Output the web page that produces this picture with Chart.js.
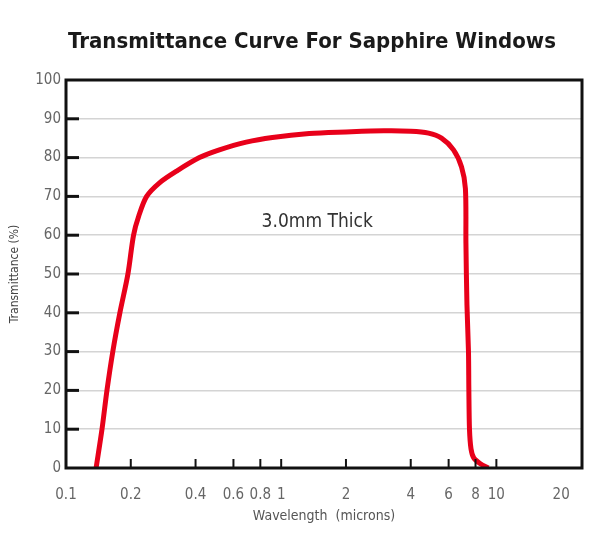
<!DOCTYPE html>
<html>
<head>
<meta charset="utf-8">
<script src="https://cdn.jsdelivr.net/npm/chart.js@4/dist/chart.umd.min.js"></script>
<style>
    html, body { margin: 0; padding: 0; background: #fff; }
    #wrap { width: 600px; height: 541px; position: relative; }
</style>
</head>
<body>
<div id="wrap"><canvas id="chart"></canvas></div>
<script>
// curve: wavelength in microns, transmittance in %
const wavelength = [0.138, 0.147, 0.155, 0.165, 0.178, 0.194, 0.206, 0.218, 0.237, 0.272, 0.326, 0.417, 0.516, 0.688, 0.91, 1.35, 2.0, 3.0, 4.0, 4.84, 5.56, 6.32, 6.89, 7.18, 7.22, 7.3, 7.42, 7.45, 7.5, 7.62, 7.85, 8.43, 9.18];
const transmittance = [0, 10, 20, 30, 40, 50, 60, 65, 70, 73.5, 76.5, 80, 82, 84, 85.2, 86.2, 86.6, 86.9, 86.8, 86.3, 85, 82, 77.6, 72, 58, 42, 30, 20, 10, 5, 2.6, 1.1, 0];

const xTicks = [0.1, 0.2, 0.4, 0.6, 0.8, 1, 2, 4, 6, 8, 10, 20];
const yTicks = [0, 10, 20, 30, 40, 50, 60, 70, 80, 90, 100];

const chartTitle = 'Transmittance Curve For Sapphire Windows';
const noteText = '3.0mm Thick';
const noteX = 1.47;
const noteY = 63.4;

const condensed = "'DejaVu Sans Condensed', 'Liberation Sans Narrow', 'DejaVu Sans', sans-serif";

const framePlugin = {
    id: 'frame',
    afterDatasetsDraw(chart) {
        const ctx = chart.ctx;
        const area = chart.chartArea;
        const xs = chart.scales.x;
        const ys = chart.scales.y;
        ctx.save();

        // inward tick marks
        ctx.strokeStyle = '#111';
        ctx.lineWidth = 3;
        yTicks.slice(1, -1).forEach(v => {
            const py = ys.getPixelForValue(v);
            ctx.beginPath();
            ctx.moveTo(area.left, py);
            ctx.lineTo(area.left + 13, py);
            ctx.stroke();
        });
        ctx.lineWidth = 2;
        xTicks.slice(1, -1).forEach(v => {
            const px = xs.getPixelForValue(v);
            ctx.beginPath();
            ctx.moveTo(px, area.bottom);
            ctx.lineTo(px, area.bottom - 9);
            ctx.stroke();
        });

        // plot box
        ctx.lineWidth = 3;
        ctx.strokeRect(area.left, area.top, area.right - area.left, area.bottom - area.top);

        // note inside the plot
        ctx.fillStyle = '#333';
        ctx.font = '19px ' + condensed;
        ctx.textAlign = 'center';
        ctx.textBaseline = 'middle';
        ctx.fillText(noteText, xs.getPixelForValue(noteX), ys.getPixelForValue(noteY));

        // title
        ctx.fillStyle = '#1a1a1a';
        ctx.font = 'bold 22px ' + condensed;
        ctx.fillText(chartTitle, 312, 42);
        ctx.restore();
    }
};

new Chart(document.getElementById('chart').getContext('2d'), {
    type: 'line',
    data: {
        datasets: [{
            data: wavelength.map((w, i) => ({ x: w, y: transmittance[i] })),
            borderColor: '#e8001a',
            borderWidth: 5,
            pointRadius: 0,
            tension: 0.3,
            fill: false
        }]
    },
    options: {
        responsive: true,
        maintainAspectRatio: false,
        animation: false,
        layout: { padding: { top: 80, right: 18, left: 0, bottom: 0 } },
        plugins: {
            legend: { display: false },
            tooltip: { enabled: false }
        },
        scales: {
            x: {
                type: 'logarithmic',
                min: 0.1,
                max: 25,
                afterBuildTicks: scale => { scale.ticks = xTicks.map(v => ({ value: v })); },
                afterFit: scale => { scale.height = 73; },
                grid: { display: false },
                border: { display: false },
                ticks: {
                    autoSkip: false,
                    maxRotation: 0,
                    padding: 10,
                    color: '#666',
                    font: { family: condensed, size: 15 },
                    callback: v => String(v)
                },
                title: {
                    display: true,
                    text: 'Wavelength  (microns)',
                    color: '#555',
                    font: { family: condensed, size: 14 },
                    padding: { top: 0, bottom: 16 }
                }
            },
            y: {
                min: 0,
                max: 100,
                afterFit: scale => { scale.width = 66; },
                grid: { color: '#d4d4d4', lineWidth: 1.5, drawTicks: false },
                border: { display: false },
                ticks: {
                    stepSize: 10,
                    padding: 5,
                    color: '#666',
                    font: { family: condensed, size: 15 }
                },
                title: {
                    display: true,
                    text: 'Transmittance (%)',
                    color: '#444',
                    font: { family: condensed, size: 12 },
                    padding: { top: 8, bottom: 0 }
                }
            }
        }
    },
    plugins: [framePlugin]
});
</script>
</body>
</html>
